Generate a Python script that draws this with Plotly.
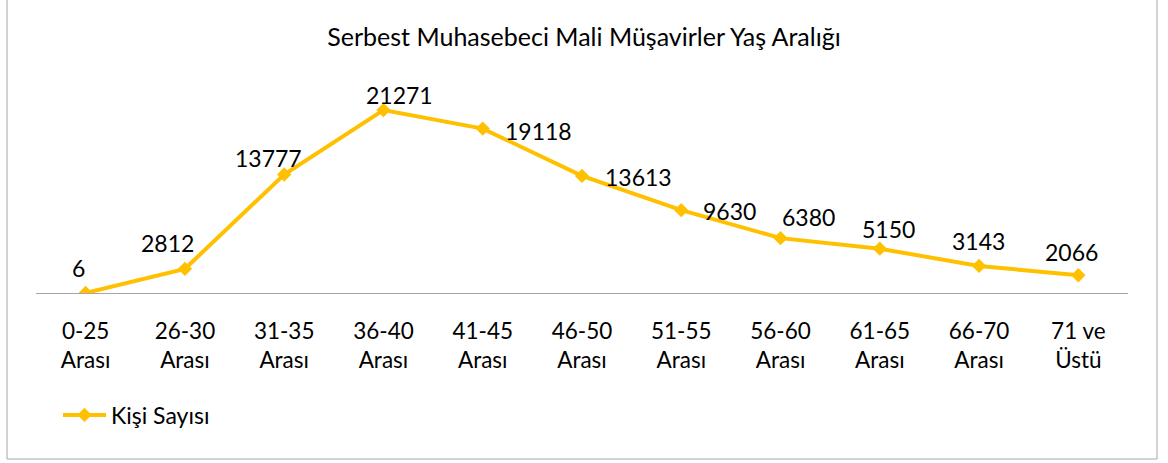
import plotly.graph_objects as go

categories = ["0-25<br>Arası", "26-30<br>Arası", "31-35<br>Arası", "36-40<br>Arası",
              "41-45<br>Arası", "46-50<br>Arası", "51-55<br>Arası", "56-60<br>Arası",
              "61-65<br>Arası", "66-70<br>Arası", "71 ve<br>Üstü"]
values = [6, 2812, 13777, 21271, 19118, 13613, 9630, 6380, 5150, 3143, 2066]
series_name = "Kişi Sayısı"
title_text = "Serbest Muhasebeci Mali Müşavirler Yaş Aralığı"

# label offsets (pixels) relative to each point: (dx, dy up)
label_dx = [-7, -17, -16, 16, 56, 56, 48, 28, 9, -1, -7]
label_dy = [25, 26, 17, 15, -2, -1, -1, 21, 20, 25, 23]

FONT = "Lato, 'Open Sans', sans-serif"
GOLD = "#FFC000"
W, H = 1168, 463
ML, MR, MT, MB = 36, 40, 78, 170

fig = go.Figure()
fig.add_trace(go.Scatter(
    x=categories, y=values, mode="lines+markers", name=series_name,
    line=dict(color=GOLD, width=4),
    marker=dict(symbol="diamond", size=11, color=GOLD),
    hoverinfo="x+y",
))

annotations = []
for c, v, dx, dy in zip(categories, values, label_dx, label_dy):
    annotations.append(dict(
        x=c, y=v, xref="x", yref="y", text=str(v), showarrow=False,
        xshift=dx, yshift=dy, xanchor="center", yanchor="middle",
        font=dict(family=FONT, size=23, color="#000000"),
    ))

pw = W - ML - MR
ph = H - MT - MB
def px_x(p):
    return (p - ML) / pw
def px_y(p):
    return (H - MB - p) / ph

fig.update_layout(
    width=W, height=H,
    margin=dict(l=ML, r=MR, t=MT, b=MB, autoexpand=False),
    paper_bgcolor="white", plot_bgcolor="white",
    font=dict(family=FONT, size=23, color="#000000"),
    title=dict(text=title_text, x=0.5, xref="container", xanchor="center",
               y=1 - 37 / H, yref="container", yanchor="middle",
               font=dict(family=FONT, size=25, color="#000000")),
    xaxis=dict(
        type="category", range=[-0.5, len(categories) - 0.5],
        showgrid=False, zeroline=False, showline=True, linecolor="#A6A6A6", linewidth=1,
        ticks="", tickfont=dict(family=FONT, size=22.5, color="#000000"),
        ticklabelstandoff=18, fixedrange=True,
    ),
    yaxis=dict(range=[0, 25000], showgrid=False, zeroline=False, showline=False,
               showticklabels=False, ticks="", fixedrange=True),
    showlegend=True,
    legend=dict(orientation="h", xref="container", yref="container",
                x=58 / W, y=1 - 415 / H, xanchor="left", yanchor="middle",
                font=dict(family=FONT, size=23, color="#000000"),
                itemwidth=43, bgcolor="rgba(0,0,0,0)"),
    annotations=annotations,
    shapes=[dict(type="rect", xref="paper", yref="paper",
                 x0=px_x(7), x1=px_x(1157), y0=px_y(459), y1=px_y(-2),
                 line=dict(color="#A6A6A6", width=1), fillcolor="rgba(0,0,0,0)",
                 layer="below")],
)

fig.write_html("out.html", config={"displayModeBar": False},
               post_script="document.body.style.margin='0px';")
